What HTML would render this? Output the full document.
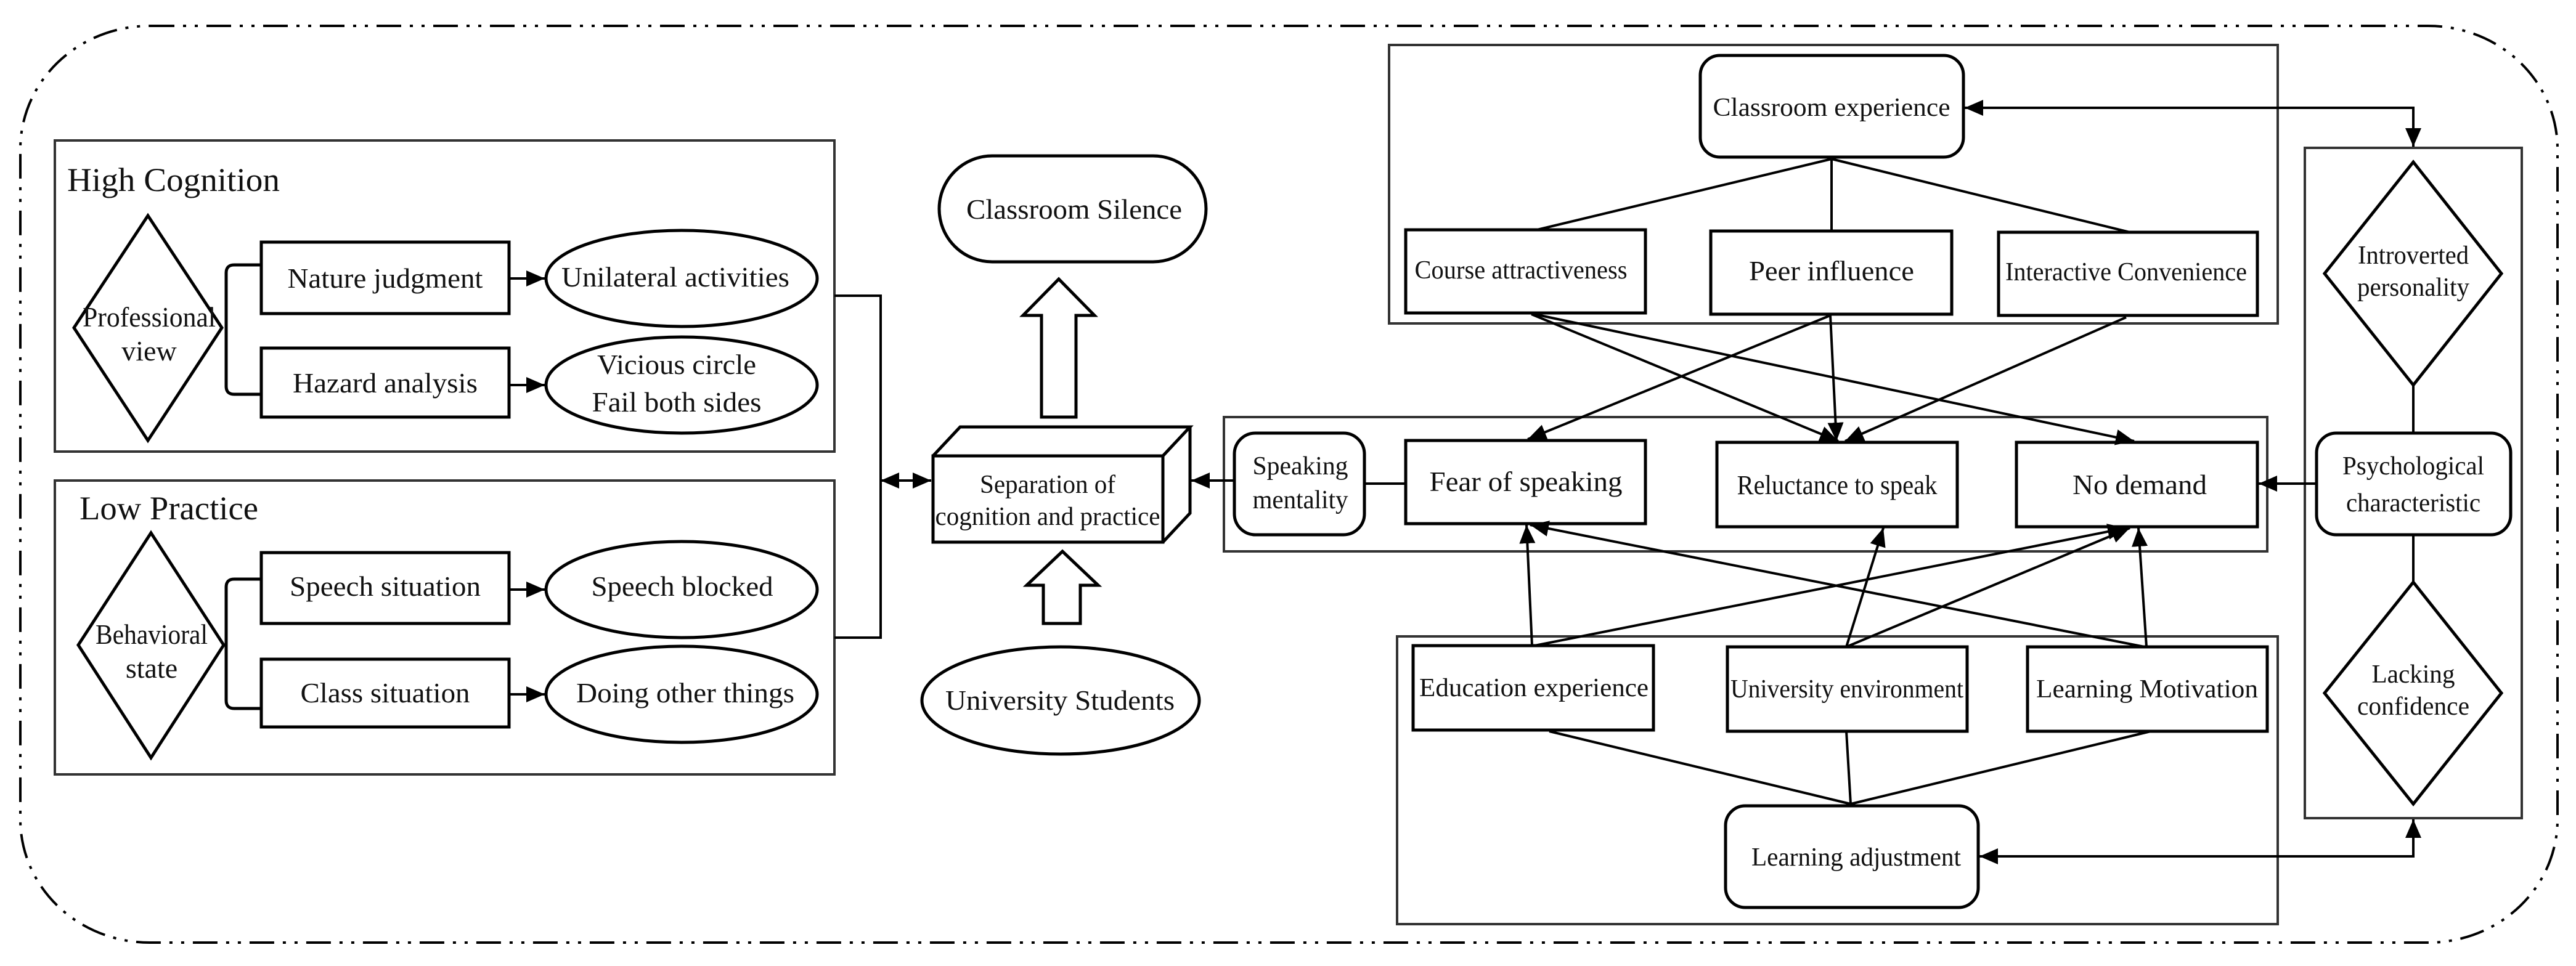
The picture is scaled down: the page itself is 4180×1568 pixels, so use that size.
<!DOCTYPE html>
<html><head><meta charset="utf-8"><style>html,body{margin:0;padding:0;background:#fff}svg{display:block}text{font-family:"Liberation Serif",serif;fill:#111}</style></head>
<body>
<svg width="4180" height="1568" viewBox="0 0 4180 1568" xmlns="http://www.w3.org/2000/svg">
<defs>
<marker id="a" markerUnits="userSpaceOnUse" markerWidth="34" markerHeight="34" refX="30" refY="15" orient="auto-start-reverse"><path d="M0,2 L30,15 L0,28 Z" fill="#000"/></marker>
</defs>
<g fill="none" stroke="#000">
<rect x="33" y="42" width="4117" height="1488" rx="210" ry="200" stroke-width="4" stroke-dasharray="40 14 5 14 5 14"/>
<g stroke-width="4">
<rect x="89" y="228" width="1265" height="505" stroke="#333"/>
<rect x="89" y="780" width="1265" height="477" stroke="#333"/>
<rect x="2254" y="73" width="1442" height="452" stroke="#333"/>
<rect x="1986" y="677" width="1693" height="218" stroke="#333"/>
<rect x="2267" y="1033" width="1429" height="467" stroke="#333"/>
<rect x="3740" y="240" width="352" height="1088" stroke="#333"/>
</g>
<g stroke-width="5">
<path d="M240,350 L360,532 L240,715 L120,532 Z"/>
<path d="M245,865 L363,1047 L245,1230 L127,1047 Z"/>
<rect x="424" y="393" width="402" height="116"/>
<rect x="424" y="565" width="402" height="112"/>
<rect x="424" y="897" width="402" height="115"/>
<rect x="424" y="1070" width="402" height="110"/>
<ellipse cx="1106" cy="452" rx="220" ry="78"/>
<ellipse cx="1106" cy="625" rx="220" ry="78"/>
<ellipse cx="1106" cy="957" rx="220" ry="78"/>
<ellipse cx="1106" cy="1127" rx="220" ry="78"/>
<path d="M424,430 H380 Q367,430 367,443 V627 Q367,640 380,640 H424"/>
<path d="M424,940 H380 Q367,940 367,953 V1137 Q367,1150 380,1150 H424"/>
<rect x="1524" y="253" width="433" height="172" rx="86"/>
<path d="M1660,512 L1718,453 L1776,512 H1746 V677 H1690 V512 Z"/>
<path d="M1666,950 L1724,895 L1782,950 H1753 V1012 H1693 V950 Z"/>
<ellipse cx="1721" cy="1137" rx="225" ry="87"/>
<rect x="1514" y="740" width="373" height="140"/>
<path d="M1514,740 L1558,693 H1931 L1887,740 M1931,693 V833 L1887,880"/>
<rect x="2759" y="90" width="427" height="165" rx="32"/>
<rect x="2281" y="373" width="389" height="135"/>
<rect x="2776" y="375" width="391" height="135"/>
<rect x="3243" y="377" width="420" height="135"/>
<rect x="2003" y="703" width="211" height="165" rx="34"/>
<rect x="2281" y="715" width="389" height="135"/>
<rect x="2786" y="718" width="390" height="137"/>
<rect x="3272" y="718" width="391" height="137"/>
<rect x="2293" y="1048" width="390" height="137"/>
<rect x="2803" y="1050" width="389" height="137"/>
<rect x="3290" y="1050" width="389" height="137"/>
<rect x="2800" y="1308" width="410" height="165" rx="32"/>
<path d="M3916,263 L4059,444 L3916,625 L3772,444 Z"/>
<rect x="3759" y="703" width="315" height="165" rx="32"/>
<path d="M3916,945 L4059,1125 L3916,1305 L3772,1125 Z"/>
</g>
<g stroke-width="4">
<path d="M826,452 H884" marker-end="url(#a)"/>
<path d="M826,625 H884" marker-end="url(#a)"/>
<path d="M826,957 H884" marker-end="url(#a)"/>
<path d="M826,1127 H884" marker-end="url(#a)"/>
<path d="M1354,480 H1429 V1035 H1354"/>
<path d="M1429,780 H1511" marker-start="url(#a)" marker-end="url(#a)"/>
<path d="M2003,780 H1933" marker-end="url(#a)"/>
<path d="M2214,785 H2281"/>
<path d="M3759,785 H3665" marker-end="url(#a)"/>
<path d="M3916,625 V703 M3916,868 V945"/>
<path d="M3188,175 H3916 V238" marker-start="url(#a)" marker-end="url(#a)"/>
<path d="M3212,1390 H3916 V1330" marker-start="url(#a)" marker-end="url(#a)"/>
<path d="M2972,258 L2494,373 M2972,258 V375 M2972,258 L3456,377"/>
<path d="M3003,1305 L2514,1187 M3003,1305 L2996,1187 M3003,1305 L3490,1187"/>
<path d="M2485,510 L2983,716" marker-end="url(#a)"/>
<path d="M2490,510 L3463,716" marker-end="url(#a)"/>
<path d="M2970,512 L2479,713" marker-end="url(#a)"/>
<path d="M2970,512 L2980,716" marker-end="url(#a)"/>
<path d="M3450,515 L2994,716" marker-end="url(#a)"/>
<path d="M2486,1048 L2477,852" marker-end="url(#a)"/>
<path d="M2490,1048 L3450,857" marker-end="url(#a)"/>
<path d="M2996,1050 L3056,857" marker-end="url(#a)"/>
<path d="M2996,1050 L3456,857" marker-end="url(#a)"/>
<path d="M3483,1050 L3470,857" marker-end="url(#a)"/>
<path d="M3480,1050 L2483,852" marker-end="url(#a)"/>
</g>
</g>
<g font-size="46" text-anchor="middle">
<text x="109" y="310" font-size="54" text-anchor="start" textLength="345" lengthAdjust="spacingAndGlyphs">High Cognition</text>
<text x="129" y="843" font-size="54" text-anchor="start" textLength="290" lengthAdjust="spacingAndGlyphs">Low Practice</text>
<text x="242" y="530" textLength="216" lengthAdjust="spacingAndGlyphs">Professional</text>
<text x="242" y="585">view</text>
<text x="246" y="1045" textLength="182" lengthAdjust="spacingAndGlyphs">Behavioral</text>
<text x="246" y="1100">state</text>
<text x="625" y="467" textLength="317" lengthAdjust="spacingAndGlyphs">Nature judgment</text>
<text x="625" y="637" textLength="300" lengthAdjust="spacingAndGlyphs">Hazard analysis</text>
<text x="625" y="967" textLength="310" lengthAdjust="spacingAndGlyphs">Speech situation</text>
<text x="625" y="1140" textLength="275" lengthAdjust="spacingAndGlyphs">Class situation</text>
<text x="1096" y="465" textLength="370" lengthAdjust="spacingAndGlyphs">Unilateral activities</text>
<text x="1098" y="607" textLength="258" lengthAdjust="spacingAndGlyphs">Vicious circle</text>
<text x="1098" y="668" textLength="275" lengthAdjust="spacingAndGlyphs">Fail both sides</text>
<text x="1107" y="967" textLength="295" lengthAdjust="spacingAndGlyphs">Speech blocked</text>
<text x="1112" y="1140" textLength="354" lengthAdjust="spacingAndGlyphs">Doing other things</text>
<text x="1743" y="355" textLength="350" lengthAdjust="spacingAndGlyphs">Classroom Silence</text>
<text x="1720" y="1152" textLength="372" lengthAdjust="spacingAndGlyphs">University Students</text>
<text x="1700" y="800" font-size="42" textLength="220" lengthAdjust="spacingAndGlyphs">Separation of</text>
<text x="1700" y="852" font-size="42" textLength="365" lengthAdjust="spacingAndGlyphs">cognition and practice</text>
<text x="2110" y="770" font-size="42" textLength="155" lengthAdjust="spacingAndGlyphs">Speaking</text>
<text x="2110" y="825" font-size="42" textLength="155" lengthAdjust="spacingAndGlyphs">mentality</text>
<text x="2972" y="188" font-size="42" textLength="385" lengthAdjust="spacingAndGlyphs">Classroom experience</text>
<text x="2468" y="452" font-size="42" textLength="345" lengthAdjust="spacingAndGlyphs">Course attractiveness</text>
<text x="2972" y="455" textLength="268" lengthAdjust="spacingAndGlyphs">Peer influence</text>
<text x="3450" y="455" font-size="42" textLength="392" lengthAdjust="spacingAndGlyphs">Interactive Convenience</text>
<text x="2476" y="797" textLength="313" lengthAdjust="spacingAndGlyphs">Fear of speaking</text>
<text x="2981" y="802" font-size="44" textLength="325" lengthAdjust="spacingAndGlyphs">Reluctance to speak</text>
<text x="3472" y="802" textLength="218" lengthAdjust="spacingAndGlyphs">No demand</text>
<text x="2489" y="1130" font-size="42" textLength="372" lengthAdjust="spacingAndGlyphs">Education experience</text>
<text x="2997" y="1132" font-size="42" textLength="378" lengthAdjust="spacingAndGlyphs">University environment</text>
<text x="3484" y="1132" font-size="42" textLength="360" lengthAdjust="spacingAndGlyphs">Learning Motivation</text>
<text x="3012" y="1405" font-size="42" textLength="340" lengthAdjust="spacingAndGlyphs">Learning adjustment</text>
<text x="3916" y="428" font-size="42" textLength="180" lengthAdjust="spacingAndGlyphs">Introverted</text>
<text x="3916" y="480" font-size="42" textLength="182" lengthAdjust="spacingAndGlyphs">personality</text>
<text x="3916" y="770" font-size="42" textLength="230" lengthAdjust="spacingAndGlyphs">Psychological</text>
<text x="3916" y="830" font-size="42" textLength="218" lengthAdjust="spacingAndGlyphs">characteristic</text>
<text x="3916" y="1108" font-size="42" textLength="135" lengthAdjust="spacingAndGlyphs">Lacking</text>
<text x="3916" y="1160" font-size="42" textLength="182" lengthAdjust="spacingAndGlyphs">confidence</text>
</g>
</svg>
</body></html>
